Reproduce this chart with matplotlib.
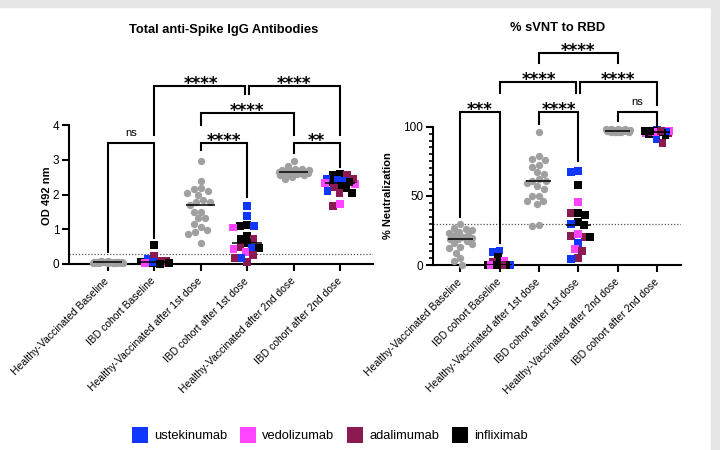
import numpy as np
import matplotlib
matplotlib.use('Agg')
import matplotlib.pyplot as plt
from matplotlib.lines import Line2D
from matplotlib.patches import Rectangle
from matplotlib.ticker import MultipleLocator
import matplotlib.transforms as mtransforms

plt.rcParams['font.family'] = 'Liberation Sans'

groups = ['Healthy-Vaccinated Baseline', 'IBD cohort Baseline',
          'Healthy-Vaccinated after 1st dose', 'IBD cohort after 1st dose',
          'Healthy-Vaccinated after 2nd dose', 'IBD cohort after 2nd dose']

drug_names = ['ustekinumab', 'vedolizumab', 'adalimumab', 'infliximab']
drug_codes = ['U', 'V', 'A', 'I']
drug_colors = {'U': '#0f37ff', 'V': '#ff45ff', 'A': '#8c1a52', 'I': '#000000'}
healthy_color = '#a0a0a0'

# OD 492 nm (total anti-Spike IgG)
hv_base_od = [0.05, 0.03, 0.07, 0.04, 0.06, 0.02, 0.05, 0.08, 0.03, 0.06, 0.04,
              0.05, 0.07, 0.02, 0.06, 0.04, 0.03, 0.05, 0.09, 0.05]
ibd_base_od = [0.55, 0.14, 0.23, 0.07, 0.02, 0.03, 0.03, 0.08, 0.10, 0.05, 0.01, 0.04, 0.02]
ibd_base_od_drug = ['I', 'U', 'A', 'I', 'I', 'I', 'V', 'A', 'A', 'U', 'I', 'V', 'I']
hv_d1_od = [2.97, 2.40, 2.11, 2.15, 2.18, 2.05, 1.99, 1.79, 1.84, 1.79, 1.71, 1.51,
            1.51, 1.32, 1.32, 1.15, 1.07, 0.98, 0.93, 0.86, 0.61]
ibd_d1_od = [1.68, 1.38, 1.09, 1.12, 1.05, 1.09, 0.81, 0.73, 0.71, 0.60, 0.45, 0.43,
             0.45, 0.50, 0.35, 0.25, 0.05, 0.18, 0.17]
ibd_d1_od_drug = ['U', 'U', 'I', 'I', 'V', 'U', 'I', 'I', 'A', 'I', 'U', 'V', 'I', 'A',
                  'V', 'A', 'A', 'U', 'A']
hv_d2_od = [2.97, 2.83, 2.72, 2.70, 2.68, 2.66, 2.74, 2.62, 2.60, 2.65, 2.67, 2.58,
            2.55, 2.63, 2.71, 2.50, 2.45, 2.69, 2.64, 2.61, 2.57]
ibd_d2_od = [2.58, 2.55, 2.55, 2.40, 2.37, 2.45, 2.41, 2.30, 2.25, 2.32, 2.20, 2.10,
             2.05, 2.05, 2.18, 1.67, 1.72, 2.45, 2.35]
ibd_d2_od_drug = ['I', 'I', 'A', 'U', 'I', 'U', 'U', 'V', 'I', 'V', 'A', 'U', 'A', 'I',
                  'I', 'A', 'V', 'A', 'I']

# % neutralization (sVNT to RBD)
hv_base_nt = [29.5, 27, 26, 25.5, 24, 23, 22, 21.5, 20.5, 19.5, 19, 18.5, 17, 16, 15,
              13, 12, 9, 5, 3, 0]
ibd_base_nt = [10.5, 9.5, 5.5, 3, 2, 0, 0, 0, 0, 0, 0, 0, 0]
ibd_base_nt_drug = ['U', 'U', 'I', 'V', 'A', 'U', 'I', 'I', 'I', 'I', 'A', 'V', 'I']
hv_d1_nt = [96, 79, 77, 76, 72, 71, 67, 66, 62, 61, 61, 59, 57, 55, 50, 50, 46, 46,
            44, 29, 28]
ibd_d1_nt = [68.1, 67.1, 58, 45.4, 37.5, 37.9, 36.2, 31.4, 28.7, 29.7, 20, 20, 21,
             22.4, 16.2, 11.8, 10.1, 5.3, 4.1]
ibd_d1_nt_drug = ['U', 'U', 'I', 'V', 'A', 'I', 'I', 'I', 'I', 'U', 'A', 'I', 'A', 'V',
                  'U', 'V', 'A', 'A', 'U']
hv_d2_nt = [98, 97.5, 97, 97, 96.5, 97, 98, 96, 97, 97.5, 96.5, 97, 98, 97, 96, 97.5,
            97, 96.5, 97, 98, 97]
ibd_d2_nt = [95.5, 97, 96.5, 96, 95, 97.5, 97, 95.5, 91, 94, 88, 97, 96.8, 96.5, 96,
             95.8, 96.2, 97.2, 96.8]
ibd_d2_nt_drug = ['V', 'A', 'I', 'I', 'I', 'U', 'I', 'A', 'U', 'I', 'A', 'V', 'I', 'U',
                  'A', 'I', 'V', 'I', 'A']

od_cutoff = 0.3
nt_cutoff = 30

# significance brackets: (left group, right group, top, left leg end, right leg end, label)
od_brackets = [
    (0, 1, 3.48, 0.35, 0.75, 'ns'),
    (2, 3, 3.48, 3.28, 1.93, '****'),
    (4, 5, 3.48, 3.2, 2.8, '**'),
    (2, 4, 4.35, 4.0, 3.71, '****'),
    (1, 2.95, 5.12, 3.71, 4.89, '****'),
    (3.05, 5, 5.12, 4.89, 3.71, '****'),
]
nt_brackets = [
    (0, 1, 110.4, 35, 15.7, '***'),
    (2, 3, 110.4, 102, 75, '****'),
    (4, 5, 110.4, 104, 100, 'ns'),
    (1, 2.95, 132, 124.4, 124.4, '****'),
    (3.05, 5, 132, 124.4, 116, '****'),
    (2, 4, 153, 146, 146, '****'),
]

fig = plt.figure(figsize=(7.2, 4.5), dpi=100)
fig.add_artist(Rectangle((0, 1 - 7 / 450), 1, 7 / 450, transform=fig.transFigure,
                         color='#e6e6e6', zorder=0))
fig.add_artist(Rectangle((711 / 720, 0), 9 / 720, 1, transform=fig.transFigure,
                         color='#e6e6e6', zorder=0))

ax1 = fig.add_axes([69 / 720, 186 / 450, 304 / 720, 139 / 450])
ax2 = fig.add_axes([433 / 720, 185 / 450, 248 / 720, 138.3 / 450])
ax1.set_xlim(-0.83, 5.71)
ax1.set_ylim(0, 4)
ax2.set_xlim(-0.69, 5.61)
ax2.set_ylim(0, 100)


def swarm(ax, xc, vals, dmin, wmax):
    # simple beeswarm in pixel space, returns x positions in data units
    vals = np.asarray(vals, float)
    pix = ax.transData.transform(np.column_stack([np.full(len(vals), xc), vals]))
    ys = pix[:, 1]
    xscale = ax.transData.transform([[1, 0]])[0, 0] - ax.transData.transform([[0, 0]])[0, 0]
    cand = np.arange(-wmax, wmax + 0.25, 0.5)
    cand = cand[np.argsort(np.abs(cand), kind='stable')]
    px, py = [], []
    offs = np.zeros(len(vals))
    for i in np.argsort(-ys, kind='stable'):
        chosen, best, bestd = None, 0.0, -1
        for c in cand:
            if px:
                d = np.min(np.hypot(np.array(px) - c, np.array(py) - ys[i]))
            else:
                d = np.inf
            if d >= dmin:
                chosen = c
                break
            if d > bestd:
                bestd, best = d, c
        if chosen is None:
            chosen = best
        offs[i] = chosen
        px.append(chosen)
        py.append(ys[i])
    return xc + offs / xscale


def draw_panel(ax, healthy, ibd, ibd_drugs, wmax):
    for k, vals in enumerate(healthy):
        gx = 2 * k
        xs = swarm(ax, gx, vals, 7, wmax)
        ax.scatter(xs, vals, s=28, marker='o', color=healthy_color, linewidths=0,
                   clip_on=False, zorder=3)
        ax.hlines(np.median(vals), gx - 0.32, gx + 0.32, color='black', lw=1.1, zorder=4)
    for k, vals in enumerate(ibd):
        gx = 2 * k + 1
        xs = swarm(ax, gx, vals, 7, wmax)
        cols = [drug_colors[d] for d in ibd_drugs[k]]
        ax.scatter(xs, vals, s=32, marker='s', c=cols, linewidths=0,
                   clip_on=False, zorder=3)
        ax.hlines(np.median(vals), gx - 0.32, gx + 0.32, color='black', lw=1.1, zorder=4)


draw_panel(ax1, [hv_base_od, hv_d1_od, hv_d2_od], [ibd_base_od, ibd_d1_od, ibd_d2_od],
           [ibd_base_od_drug, ibd_d1_od_drug, ibd_d2_od_drug], 15)
draw_panel(ax2, [hv_base_nt, hv_d1_nt, hv_d2_nt], [ibd_base_nt, ibd_d1_nt, ibd_d2_nt],
           [ibd_base_nt_drug, ibd_d1_nt_drug, ibd_d2_nt_drug], 12)

ax1.axhline(od_cutoff, color='#555555', lw=0.9, ls=(0, (1, 1.5)), zorder=1)
ax2.axhline(nt_cutoff, color='#555555', lw=0.9, ls=(0, (1, 1.5)), zorder=1)


def draw_brackets(ax, brackets):
    for x0, x1, top, l0, l1, lab in brackets:
        ax.plot([x0, x0, x1, x1], [l0, top, top, l1], color='black', lw=1.5,
                clip_on=False, solid_joinstyle='miter', zorder=5)
        xm = (round(x0) + round(x1)) / 2
        if lab == 'ns':
            tr = mtransforms.offset_copy(ax.transData, fig=fig, y=4, units='points')
            ax.text(xm, top, lab, ha='center', va='bottom', fontsize=8, transform=tr)
        else:
            tr = mtransforms.offset_copy(ax.transData, fig=fig, y=-2, units='points')
            ax.text(xm, top, lab, ha='center', va='baseline', fontsize=12,
                    family='DejaVu Sans', fontweight='bold', transform=tr)


draw_brackets(ax1, od_brackets)
draw_brackets(ax2, nt_brackets)

for ax in (ax1, ax2):
    ax.spines['top'].set_visible(False)
    ax.spines['right'].set_visible(False)
    ax.spines['left'].set_linewidth(1.5)
    ax.spines['bottom'].set_linewidth(1.5)
    ax.set_xticks(range(len(groups)))
    ax.set_xticklabels(groups, rotation=45, ha='right', va='center',
                       rotation_mode='anchor', fontsize=7.5)
    ax.tick_params(axis='x', length=5, width=1.5, pad=6)
    ax.tick_params(axis='y', length=5, width=1.5, labelsize=8.5, pad=2)

ax1.set_yticks([0, 1, 2, 3, 4])
ax2.set_yticks([0, 50, 100])
ax2.yaxis.set_minor_locator(MultipleLocator(5))
ax2.tick_params(axis='y', which='minor', length=3, width=1.2)

ax1.set_ylabel('OD 492 nm', fontsize=8, fontweight='bold')
ax1.yaxis.set_label_coords(-0.056, 0.49)
ax2.set_ylabel('% Neutralization', fontsize=8, fontweight='bold')
ax2.yaxis.set_label_coords(-0.161, 0.5)

fig.text(224 / 720, 1 - 30 / 450, 'Total anti-Spike IgG Antibodies', ha='center',
         va='center', fontsize=9.3, fontweight='bold')
fig.text(558 / 720, 1 - 28 / 450, '% sVNT to RBD', ha='center', va='center',
         fontsize=9.3, fontweight='bold')

handles = [Line2D([], [], marker='s', ls='none', markersize=11.5,
                  markerfacecolor=drug_colors[c], markeredgewidth=0) for c in drug_codes]
fig.legend(handles, drug_names, loc='center', bbox_to_anchor=(330 / 720, 1 - 436 / 450),
           ncol=4, frameon=False, fontsize=9.3, handlelength=1.2, handletextpad=0.5,
           columnspacing=1.0)

fig.savefig('out.png', dpi=100)
